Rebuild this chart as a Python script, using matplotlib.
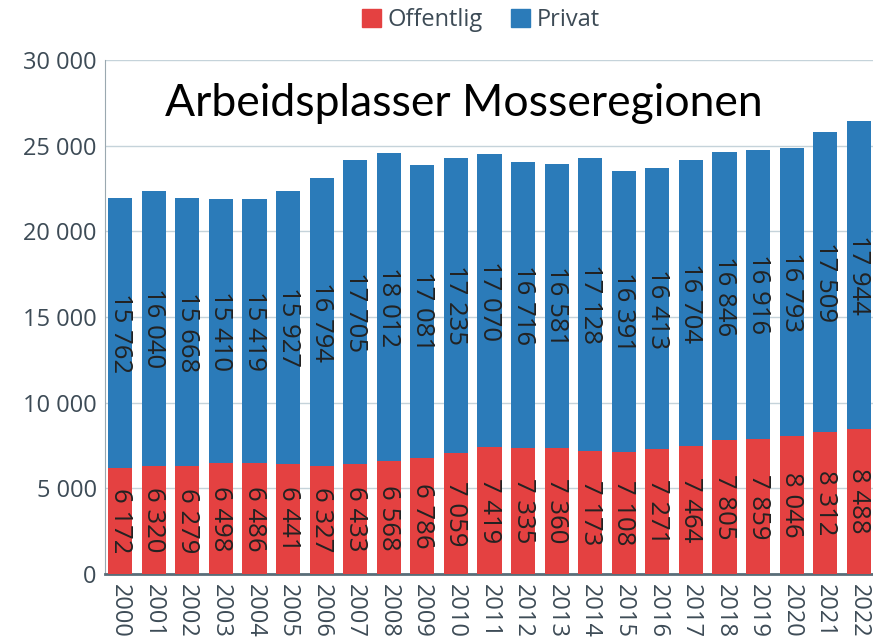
import matplotlib
matplotlib.use("Agg")
import matplotlib.pyplot as plt
from matplotlib.patches import Patch
import numpy as np

years = [str(y) for y in range(2000, 2023)]
offentlig = [6172, 6320, 6279, 6498, 6486, 6441, 6327, 6433, 6568, 6786, 7059, 7419,
             7335, 7360, 7173, 7108, 7271, 7464, 7805, 7859, 8046, 8312, 8488]
privat = [15762, 16040, 15668, 15410, 15419, 15927, 16794, 17705, 18012, 17081, 17235,
          17070, 16716, 16581, 17128, 16391, 16413, 16704, 16846, 16916, 16793, 17509, 17944]
yticks = [0, 5000, 10000, 15000, 20000, 25000, 30000]

def fmt(v):
    return f"{v:,}".replace(",", " ")

plt.rcParams['font.family'] = ['Open Sans', 'DejaVu Sans']
RED = '#e44141'
BLUE = '#2b7bb9'
TXT = '#3d4b56'

fig = plt.figure(figsize=(8.73, 6.39), dpi=100)
ax = fig.add_axes([105/873, (639-574)/639, 1 - 105/873, (574-60)/639])

x = np.arange(len(years))
w = 0.72
ax.bar(x, offentlig, width=w, color=RED, zorder=3)
ax.bar(x, privat, width=w, bottom=offentlig, color=BLUE, zorder=3)

for i in range(len(years)):
    ax.text(x[i], offentlig[i] / 2, fmt(offentlig[i]), rotation=270, ha='center', va='center',
            fontsize=18.5, color='#222222', zorder=4)
    ax.text(x[i], offentlig[i] + privat[i] / 2, fmt(privat[i]), rotation=270, ha='center', va='center',
            fontsize=18.5, color='#222222', zorder=4)

ax.set_ylim(0, 30000)
ax.set_xlim(-0.45, 22.42)
ax.set_yticks(yticks)
ax.set_yticklabels([fmt(v) for v in yticks], fontsize=17, color=TXT)
ax.set_xticks(x)
ax.set_xticklabels(years, rotation=270, fontsize=17, color=TXT)
ax.tick_params(axis='both', length=0, pad=6)
ax.tick_params(axis='x', pad=7)
ax.grid(axis='y', color='#c5d3da', linewidth=1, zorder=0)
for s in ['top', 'right']:
    ax.spines[s].set_visible(False)
ax.spines['left'].set_color('#9aa8b0')
ax.spines['bottom'].set_color('#5a6d78')
ax.spines['bottom'].set_linewidth(2)

ax.text(0.078, 0.916, 'Arbeidsplasser Mosseregionen', transform=ax.transAxes,
        fontsize=32, color='black', family=['Lato', 'DejaVu Sans'], va='center', ha='left')

handles = [Patch(color=RED, label='Offentlig'), Patch(color=BLUE, label='Privat')]
fig.legend(handles=handles, loc='center', bbox_to_anchor=(481/873, 1 - 20/639), ncol=2,
           frameon=False, fontsize=17, labelcolor=TXT, handlelength=0.8, handleheight=0.8,
           handletextpad=0.3, columnspacing=1.2)

fig.savefig('out.png', dpi=100)
